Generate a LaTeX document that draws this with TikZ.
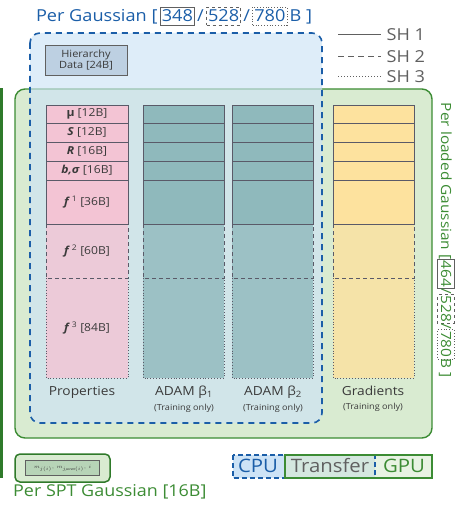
\documentclass[tikz,border=0pt]{standalone}
\usepackage{fontspec}
\setmainfont{Open Sans}[FakeStretch=1.1]
\definecolor{tblue}{HTML}{1B5EA8}
\definecolor{bluefill}{HTML}{CDE3F6}
\definecolor{tgreen}{HTML}{3C8C34}
\definecolor{dgreen}{HTML}{2F7A2A}
\definecolor{greenfill}{HTML}{D9EBD1}
\definecolor{pinkf}{HTML}{F3C4D4}
\definecolor{tealf}{HTML}{8FB9BC}
\definecolor{yellowf}{HTML}{FDE29E}
\definecolor{cellline}{HTML}{5A5A68}
\definecolor{boxgray}{HTML}{606060}
\definecolor{hierf}{HTML}{BDD0E2}
\definecolor{txtgray}{HTML}{3A3A3A}
\tikzset{
  cell/.style={draw=cellline,line width=0.8pt},
  bluebox/.style={draw=tblue,line width=1.6pt,dash pattern=on 6pt off 5pt},
  greenbox/.style={draw=tgreen,line width=1.4pt},
  colname/.style={font=\fontsize{12.5}{14}\selectfont,text=txtgray},
  colsub/.style={font=\fontsize{8.3}{10}\selectfont,text=txtgray},
  celltxt/.style={font=\fontsize{11}{12}\selectfont,text=txtgray},
  legtxt/.style={font=\fontsize{16.5}{18}\selectfont,text=boxgray,anchor=west},
  ttl/.style={text=tblue,font=\fontsize{16.5}{18}\selectfont,inner sep=0pt,outer sep=0pt,anchor=base west},
  rtl/.style={text=tgreen,font=\fontsize{14}{16}\selectfont,inner sep=0pt,outer sep=0pt,anchor=base west,rotate=-90},
  nbox/.style={draw=boxgray,line width=0.8pt,inner xsep=1.5pt,inner ysep=3pt},
}
\begin{document}
\begin{tikzpicture}[x=1pt,y=-1pt]
\useasboundingbox (0,0) rectangle (462,505);
% left strip
\fill[dgreen] (0,88) rectangle (3,478);
% green region
\draw[greenbox,fill=greenfill,rounded corners=10pt] (15,89) rectangle (432,438);
% blue region
\fill[bluefill,fill opacity=0.65,rounded corners=10pt] (30,33) rectangle (322,423);
\draw[bluebox,rounded corners=10pt] (30,33) rectangle (322,423);
% title
\node[ttl] (t0) at (36,22) {Per Gaussian [\,};
\node[ttl,nbox] (t1) at (t0.base east) {348};
\node[ttl] (t2) at (t1.base east) {\,/\,};
\node[ttl,nbox,dashed] (t3) at (t2.base east) {528};
\node[ttl] (t4) at (t3.base east) {\,/\,};
\node[ttl,nbox,dotted] (t5) at (t4.base east) {780};
\node[ttl] (t6) at (t5.base east) {\,B ]};
% hierarchy box
\node[draw=boxgray,fill=hierf,line width=0.8pt,minimum width=82pt,minimum height=30pt,inner sep=1pt,
  font=\fontsize{10}{11}\selectfont,text=txtgray,align=center] (hier) at (86,60) {Hierarchy\\Data [24B]};
% legend
\coordinate (l1a) at (338,35); \coordinate (l1b) at (381,35);
\coordinate (l2a) at (338,57); \coordinate (l2b) at (381,57);
\coordinate (l3a) at (338,77); \coordinate (l3b) at (381,77);
\draw[boxgray,line width=1pt] (l1a) -- (l1b);
\draw[boxgray,line width=1pt,dash pattern=on 6pt off 4pt] (l2a) -- (l2b);
\draw[boxgray,line width=1pt,dotted] (l3a) -- (l3b);
\node[legtxt] (sh1) at (383,35) {SH 1};
\node[legtxt] (sh2) at (383,57) {SH 2};
\node[legtxt] (sh3) at (383,77) {SH 3};
% columns
\foreach \xa/\xb/\fc in {46/128/pinkf,143/224/tealf,232/313/tealf,333/414/yellowf}{
  \fill[\fc] (\xa,105) rectangle (\xb,224);
  \fill[\fc,fill opacity=0.8] (\xa,224) rectangle (\xb,378);
  \draw[cell] (\xa,105) rectangle (\xb,224);
  \foreach \yy in {123,142,161,180} \draw[cell] (\xa,\yy) -- (\xb,\yy);
  \draw[cell,dash pattern=on 4pt off 3pt] (\xa,224) -- (\xa,278) -- (\xb,278) -- (\xb,224);
  \draw[cell,line width=0.9pt,dotted] (\xa,278) -- (\xa,378) -- (\xb,378) -- (\xb,278);
}
% property labels
\node[celltxt] (pmu) at (87,114) {\textbf{μ} [12B]};
\node[celltxt] (ps) at (87,132.5) {\textbf{\textit{S}} [12B]};
\node[celltxt] (pr) at (87,151.5) {\textbf{\textit{R}} [16B]};
\node[celltxt] (pb) at (87,170.5) {\textbf{\textit{b,σ}} [16B]};
\node[celltxt] (pf1) at (87,202) {\textbf{\textit{f}}\,\textsuperscript{1} [36B]};
\node[celltxt] (pf2) at (87,251) {\textbf{\textit{f}}\,\textsuperscript{2} [60B]};
\node[celltxt] (pf3) at (87,328) {\textbf{\textit{f}}\,\textsuperscript{3} [84B]};
% column names
\node[colname] (cprop) at (82,392) {Properties};
\node[colname] (cad1) at (184,392) {ADAM β\textsubscript{1}};
\node[colsub] (cad1s) at (184,408) {(Training only)};
\node[colname] (cad2) at (273,392) {ADAM β\textsubscript{2}};
\node[colsub] (cad2s) at (273,408) {(Training only)};
\node[colname] (cgrad) at (373,391) {Gradients};
\node[colsub] (cgrads) at (373,407) {(Training only)};
% rotated label
\node[rtl] (r0) at (441,103) {Per loaded Gaussian [};
\node[rtl,nbox] (r1) at (r0.base east) {464};
\node[rtl] (r2) at (r1.base east) {/};
\node[rtl,nbox,dashed] (r3) at (r2.base east) {528};
\node[rtl] (r4) at (r3.base east) {/};
\node[rtl,nbox,dotted] (r5) at (r4.base east) {780};
\node[rtl] (r6) at (r5.base east) {B ]};
% SPT box
\draw[draw=dgreen,line width=1.5pt,fill=greenfill,rounded corners=5pt] (15,454) rectangle (110,482);
\node[draw=boxgray,fill=green!25!gray!45,line width=0.6pt,minimum width=74pt,minimum height=15pt,
  font=\fontsize{4.5}{5}\selectfont,text=txtgray,inner sep=0pt] (spt) at (62.5,468) {$m_{j(i)},\,m_{j\mathit{parent}(i)},\,i$};
\node[anchor=west,text=tgreen,font=\fontsize{16.3}{18}\selectfont,inner sep=0pt] (sptlbl) at (13,492) {Per SPT Gaussian [16B]};
% CPU / GPU legend
\fill[bluefill] (233,455) rectangle (375,478);
\fill[greenfill,fill opacity=0.6] (285,455) rectangle (432,478);
\draw[bluebox,line width=1.4pt,dash pattern=on 5pt off 3pt] (233,455) rectangle (375,478);
\draw[greenbox] (285,455) rectangle (432,478);
\node[text=tblue,font=\fontsize{18.5}{20}\selectfont] (cpu) at (258,466) {CPU};
\node[text=boxgray,font=\fontsize{18.5}{20}\selectfont] (transfer) at (330,466) {Transfer};
\node[text=tgreen,font=\fontsize{18.5}{20}\selectfont] (gpu) at (404,466) {GPU};
\end{tikzpicture}
\end{document}
